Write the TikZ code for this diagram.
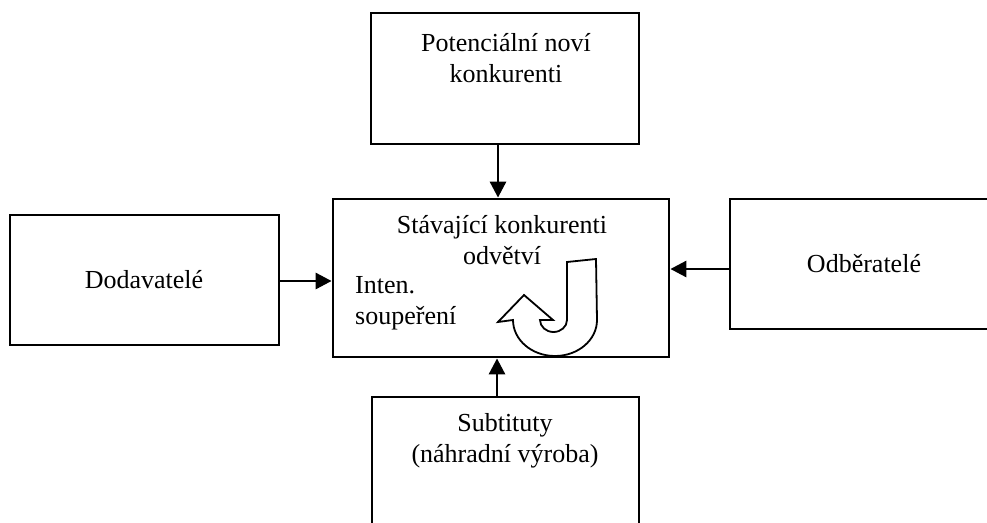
\documentclass[tikz,border=0pt]{standalone}
\usepackage{fontspec}
\setmainfont{Liberation Serif}
\usetikzlibrary{arrows.meta}

\tikzset{
    box/.style={draw, line width=2.8pt, inner sep=0pt},
    txt/.style={align=center, inner sep=0pt, font=\fontsize{26}{31}\selectfont},
    arr/.style={line width=2.9pt, -{Triangle[length=16pt,width=16pt]}},
}

\begin{document}
\begin{tikzpicture}[x=1pt, y=-1pt]

    \useasboundingbox (0,0) rectangle (987,522);
    \clip (0,0) rectangle (987,522);

    % boxes
    \node[box, minimum width=268pt, minimum height=131pt] (pot) at (505,78.5) {};
    \node[box, minimum width=336pt, minimum height=158pt] (st) at (501,278) {};
    \node[box, minimum width=269pt, minimum height=130pt] (dod) at (144.5,280) {};
    \node[box, minimum width=268pt, minimum height=130pt] (odb) at (864,264) {};
    \node[box, minimum width=267pt, minimum height=140pt] (sub) at (505.5,467) {};

    % texts
    \node[txt] (pot-t) at (506,58) {Potenciální noví\\konkurenti};
    \node[txt] (st-t) at (502,240) {Stávající konkurenti\\odvětví};
    \node[txt, align=left, anchor=west] (int-t) at (355,303) {Inten.\\soupeření};
    \node[txt] (dod-t) at (144,280) {Dodavatelé};
    \node[txt] (odb-t) at (864,264) {Odběratelé};
    \node[txt] (sub-t) at (505,441) {Subtituty\\(náhradní výroba)};

    % arrows
    \draw[arr] ([xshift=-7pt]pot.south) -- ([xshift=-7pt]pot.south |- st.north);
    \draw[arr] ([yshift=-1pt]dod.east) -- ([yshift=-1pt]dod.east -| st.west);
    \draw[arr] ([yshift=-5pt]odb.west) -- ([yshift=-5pt]odb.west -| st.east);
    \draw[arr] ([xshift=-8.5pt]sub.north) -- ([xshift=-8.5pt]sub.north |- st.south);

    % rivalry arrow
    \draw[line width=1.8pt, fill=white, line join=miter]
        (567,262) -- (596,259) -- (597,320)
        arc(0:180:42 and 36)
        -- (498,322) -- (524,295) -- (553,320) -- (540,320)
        arc(180:0:13.5 and 12)
        -- cycle;

\end{tikzpicture}
\end{document}
